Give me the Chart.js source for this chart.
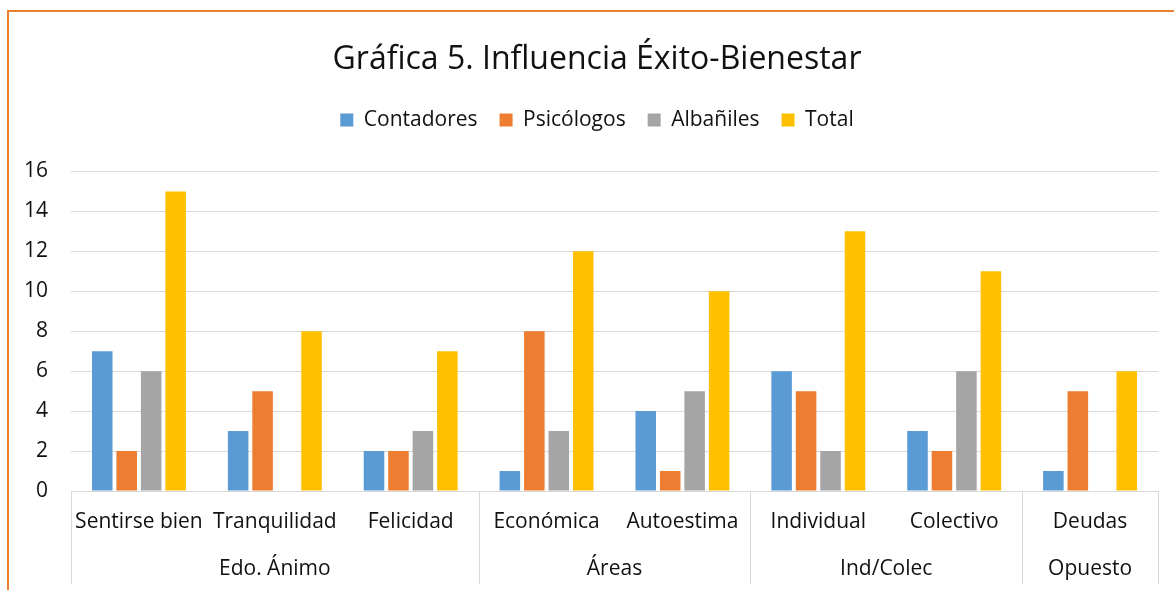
<!DOCTYPE html>
<html>
<head>
<meta charset="utf-8">
<script src="https://cdn.jsdelivr.net/npm/chart.js@4.4.1/dist/chart.umd.min.js"></script>
<style>
  html, body { margin: 0; padding: 0; background: #fff; }
  #wrap { position: relative; width: 1174px; height: 590px; overflow: hidden; }
  #frame { position: absolute; left: 7px; top: 10px; width: 1200px; height: 700px; border: 2px solid #ED7D31; box-sizing: border-box; }
  #c { position: absolute; left: 0; top: 0; }
</style>
</head>
<body>
<div id="wrap">
  <div id="frame"></div>
  <canvas id="c" width="1174" height="590"></canvas>
</div>
<script>
const categories = ["Sentirse bien", "Tranquilidad", "Felicidad", "Económica", "Autoestima", "Individual", "Colectivo", "Deudas"];
const groups = [
  { label: "Edo. Ánimo", from: 0, to: 2 },
  { label: "Áreas", from: 3, to: 4 },
  { label: "Ind/Colec", from: 5, to: 6 },
  { label: "Opuesto", from: 7, to: 7 }
];
const contadores = [7, 3, 2, 1, 4, 6, 3, 1];
const psicologos = [2, 5, 2, 8, 1, 5, 2, 5];
const albaniles  = [6, 0, 3, 3, 5, 2, 6, 0];
const total      = [15, 8, 7, 12, 10, 13, 11, 6];
const yTicks = [0, 2, 4, 6, 8, 10, 12, 14, 16];

const FONT = "'Open Sans', 'Liberation Sans', sans-serif";
const TEXT = "#111111";
const GRID = "#d9d9d9";
const HEADER_SHIFT = 18;

const legendMargin = {
  id: "legendMargin",
  beforeInit(chart) {
    const fit = chart.legend.fit;
    chart.legend.fit = function () {
      fit.bind(chart.legend)();
      this.height += 31;
    };
  },
  afterLayout(chart) {
    [chart.titleBlock, chart.legend].forEach(b => {
      if (b) { b.left += HEADER_SHIFT; b.right += HEADER_SHIFT; }
    });
  }
};

const groupPlugin = {
  id: "groupLabels",
  afterDraw(chart) {
    const x = chart.scales.x;
    const ctx = chart.ctx;
    const n = categories.length;
    const step = (x.right - x.left) / n;
    const top = x.top;
    const bottom = 584;
    ctx.save();
    ctx.strokeStyle = GRID;
    ctx.lineWidth = 1;
    const bounds = [];
    groups.forEach(g => {
      bounds.push(x.getPixelForValue(g.from) - step / 2);
    });
    bounds.push(x.getPixelForValue(n - 1) + step / 2);
    bounds.forEach(b => {
      const px = Math.round(b) + 0.5;
      ctx.beginPath();
      ctx.moveTo(px, top);
      ctx.lineTo(px, bottom);
      ctx.stroke();
    });
    ctx.fillStyle = TEXT;
    ctx.font = "21px " + FONT;
    ctx.textAlign = "center";
    ctx.textBaseline = "middle";
    groups.forEach(g => {
      const cx = (x.getPixelForValue(g.from) + x.getPixelForValue(g.to)) / 2;
      ctx.fillText(g.label, cx, 569);
    });
    ctx.restore();
  }
};

new Chart(document.getElementById("c"), {
  type: "bar",
  data: {
    labels: categories,
    datasets: [
      { label: "Contadores", data: contadores, backgroundColor: "#5B9BD5" },
      { label: "Psicólogos", data: psicologos, backgroundColor: "#ED7D31" },
      { label: "Albañiles", data: albaniles, backgroundColor: "#A5A5A5" },
      { label: "Total", data: total, backgroundColor: "#FFC000" }
    ]
  },
  options: {
    responsive: false,
    animation: false,
    devicePixelRatio: 1,
    datasets: {
      bar: { categoryPercentage: 0.72, barPercentage: 0.84, borderWidth: 0 }
    },
    layout: { padding: { left: 0, right: 16, top: 31, bottom: 0 } },
    plugins: {
      title: {
        display: true,
        text: "Gráfica 5. Influencia Éxito-Bienestar",
        color: TEXT,
        font: { family: FONT, size: 32, weight: "normal" },
        padding: { top: 10, bottom: 8 }
      },
      legend: {
        display: true,
        position: "top",
        labels: {
          color: TEXT,
          font: { family: FONT, size: 21 },
          boxWidth: 13,
          boxHeight: 13,
          padding: 22
        }
      },
      tooltip: { enabled: false }
    },
    scales: {
      x: {
        grid: { display: false },
        border: { display: true, color: GRID, width: 1 },
        ticks: { color: TEXT, font: { family: FONT, size: 21 }, padding: 10, maxRotation: 0, autoSkip: false },
        afterFit(scale) { scale.height = 99; }
      },
      y: {
        min: 0,
        max: 16,
        afterBuildTicks(scale) { scale.ticks = yTicks.map(v => ({ value: v })); },
        grid: { color: GRID, lineWidth: 1, drawTicks: false },
        border: { display: false },
        ticks: { color: TEXT, font: { family: FONT, size: 21 }, padding: 23 },
        afterFit(scale) { scale.width = 71; }
      }
    }
  },
  plugins: [legendMargin, groupPlugin]
});
</script>
</body>
</html>
